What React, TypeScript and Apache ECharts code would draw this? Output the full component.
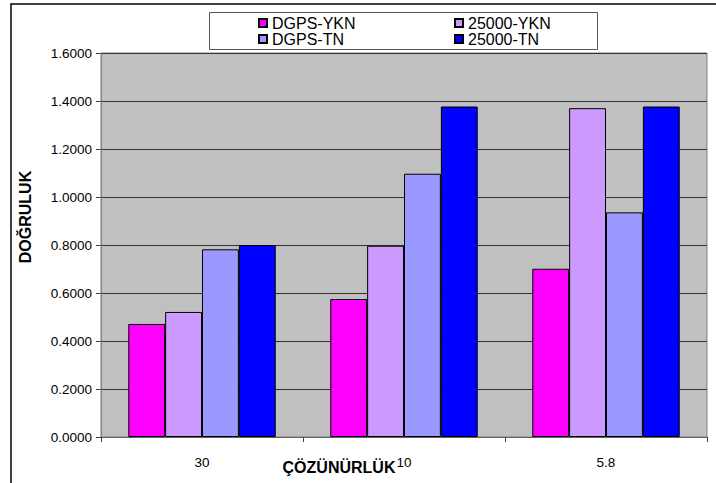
import React, { useEffect, useRef } from "react";
import * as echarts from "echarts";

const categories = ["30", "10", "5.8"];
const seriesNames = ["DGPS-YKN", "25000-YKN", "DGPS-TN", "25000-TN"];
const dgpsYkn = [0.471, 0.575, 0.701];
const ykn25000 = [0.521, 0.797, 1.37];
const dgpsTn = [0.782, 1.097, 0.936];
const tn25000 = [0.8, 1.377, 1.377];
const colors = ["#FF00FF", "#CC99FF", "#9999FF", "#0000FF"];
const yTicks = { min: 0, max: 1.6, interval: 0.2 };

const FONT = "'Liberation Sans', Arial, sans-serif";

export default function App() {
  const ref = useRef<HTMLDivElement>(null);
  useEffect(() => {
    if (!ref.current) return;
    const chart = echarts.init(ref.current, null, { renderer: "svg" });
    const values = [dgpsYkn, ykn25000, dgpsTn, tn25000];
    const legendText = { fontSize: 16, lineHeight: 14, color: "#000", fontFamily: FONT };
    chart.setOption({
      animation: false,
      backgroundColor: "#FFFFFF",
      textStyle: { fontFamily: FONT },
      grid: {
        left: 101,
        right: 9,
        top: 53,
        bottom: 46,
        show: true,
        backgroundColor: "#C0C0C0",
        borderColor: "#808080",
        borderWidth: 1,
      },
      legend: [
        {
          data: [seriesNames[0], seriesNames[2]],
          orient: "vertical",
          left: 258,
          top: 15,
          itemWidth: 8,
          itemHeight: 8,
          itemGap: 0,
          itemTextGap: 5,
          padding: 0,
          selectedMode: false,
          icon: "rect",
          textStyle: legendText,
        },
        {
          data: [seriesNames[1], seriesNames[3]],
          orient: "vertical",
          left: 454,
          top: 15,
          itemWidth: 8,
          itemHeight: 8,
          itemGap: 0,
          itemTextGap: 5,
          padding: 0,
          selectedMode: false,
          icon: "rect",
          textStyle: legendText,
        },
      ],
      xAxis: {
        type: "category",
        data: categories,
        boundaryGap: true,
        axisLine: { show: true, lineStyle: { color: "#606060", width: 1 } },
        axisTick: { show: true, length: 5, lineStyle: { color: "#404040" } },
        axisLabel: { fontSize: 13.5, color: "#000", margin: 18, fontFamily: FONT },
        splitLine: { show: false },
      },
      yAxis: {
        type: "value",
        min: yTicks.min,
        max: yTicks.max,
        interval: yTicks.interval,
        axisLine: { show: true, lineStyle: { color: "#808080", width: 1 } },
        axisTick: { show: true, length: 5, lineStyle: { color: "#404040" } },
        axisLabel: {
          fontSize: 13.5,
          color: "#000",
          margin: 9,
          fontFamily: FONT,
          formatter: (v: number) => v.toFixed(4),
        },
        splitLine: { show: true, lineStyle: { color: "#333333", width: 1 } },
      },
      graphic: [
        {
          type: "rect",
          z: 0,
          shape: { x: 11, y: 4, width: 720, height: 500 },
          style: { fill: "none", stroke: "#000", lineWidth: 1.5 },
        },
        {
          type: "rect",
          z: 0,
          shape: { x: 209.5, y: 12.5, width: 388, height: 37 },
          style: { fill: "#FFFFFF", stroke: "#555555", lineWidth: 1 },
        },
        {
          type: "text",
          x: 339,
          y: 467,
          style: {
            text: "ÇÖZÜNÜRLÜK",
            font: `bold 16px ${FONT}`,
            fill: "#000",
            textAlign: "center",
            textVerticalAlign: "middle",
          },
        },
        {
          type: "text",
          x: 25,
          y: 217,
          rotation: Math.PI / 2,
          style: {
            text: "DOĞRULUK",
            font: `bold 16px ${FONT}`,
            fill: "#000",
            textAlign: "center",
            textVerticalAlign: "middle",
          },
        },
      ],
      series: seriesNames.map((name, i) => ({
        name,
        type: "bar",
        data: values[i],
        barGap: "0%",
        barCategoryGap: "27%",
        itemStyle: { color: colors[i], borderColor: "#000", borderWidth: 1 },
      })),
    });
    return () => chart.dispose();
  }, []);
  return (
    <div
      ref={ref}
      style={{ position: "absolute", left: 0, top: 0, width: 716, height: 483 }}
    />
  );
}
